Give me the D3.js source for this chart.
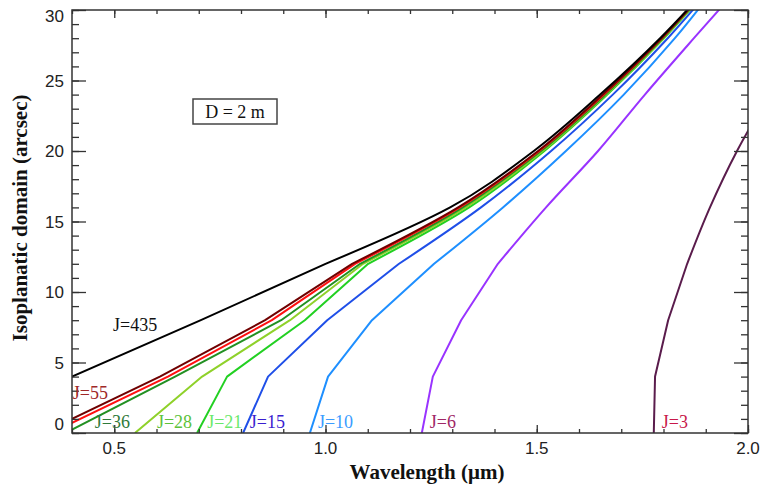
<!DOCTYPE html>
<html>
<head>
<meta charset="utf-8">
<script src="https://cdn.jsdelivr.net/npm/d3@7"></script>
<style>
  body { margin: 0; background: #fff; }
  .tick-label { font-family: "Liberation Sans", Arial, sans-serif; font-size: 17px; fill: #222; }
  .axis-title { font-family: "Liberation Serif", "Times New Roman", serif; font-size: 21px; font-weight: bold; fill: #111; }
  .jlabel { font-family: "Liberation Serif", "Times New Roman", serif; font-size: 18px; }
</style>
</head>
<body>
<div id="chart"></div>
<script>
var width = 762,
    height = 488,
    margin = {left: 72, right: 14, top: 10, bottom: 55};

// isoplanatic angle levels (arcsec) at which each curve was sampled
var thetaLevels = [0, 4, 8, 12, 16, 20, 24, 28, 32];

// wavelength (um) reached at each theta level, one list per curve
var lamJ435 = [0.30, 0.400, 0.705, 1.000, 1.295, 1.493, 1.650, 1.792, 1.917];
var lamJ55  = [0.33, 0.608, 0.857, 1.063, 1.314, 1.503, 1.656, 1.795, 1.918];
var lamJ45  = [0.35, 0.627, 0.873, 1.070, 1.318, 1.506, 1.659, 1.796, 1.918];
var lamJ36  = [0.385, 0.644, 0.895, 1.082, 1.325, 1.510, 1.662, 1.798, 1.919];
var lamJ28  = [0.549, 0.708, 0.916, 1.089, 1.332, 1.514, 1.664, 1.800, 1.920];
var lamJ21  = [0.696, 0.767, 0.951, 1.101, 1.340, 1.518, 1.667, 1.801, 1.921];
var lamJ15  = [0.805, 0.864, 1.004, 1.174, 1.368, 1.534, 1.680, 1.810, 1.926];
var lamJ10  = [0.963, 1.006, 1.110, 1.257, 1.420, 1.569, 1.706, 1.827, 1.933];
var lamJ6   = [1.228, 1.254, 1.321, 1.408, 1.522, 1.645, 1.756, 1.872, 1.990];
var lamJ3   = [1.777, 1.780, 1.811, 1.856, 1.910, 1.974, 2.050, 2.130, 2.210];

var xTicks = [0.5, 1.0, 1.5, 2.0],
    yTicks = [0, 5, 10, 15, 20, 25, 30];

var curves = [
  {name: "J=3",   lam: lamJ3,   color: "#5a1c4c"},
  {name: "J=6",   lam: lamJ6,   color: "#9933ff"},
  {name: "J=10",  lam: lamJ10,  color: "#1e8fff"},
  {name: "J=15",  lam: lamJ15,  color: "#1f4fe8"},
  {name: "J=21",  lam: lamJ21,  color: "#22d022"},
  {name: "J=28",  lam: lamJ28,  color: "#8fd12a"},
  {name: "J=36",  lam: lamJ36,  color: "#229022"},
  {name: "J=45",  lam: lamJ45,  color: "#ff1010"},
  {name: "J=55",  lam: lamJ55,  color: "#700000"},
  {name: "J=435", lam: lamJ435, color: "#000000"}
];

// curve labels, placed in data units
var labels = [
  {text: "J=435", lam: 0.497, th: 7.2,  color: "#111111"},
  {text: "J=55",  lam: 0.402, th: 2.4,  color: "#a02828"},
  {text: "J=36",  lam: 0.454, th: 0.35, color: "#2f7a3a"},
  {text: "J=28",  lam: 0.601, th: 0.35, color: "#5cc23a"},
  {text: "J=21",  lam: 0.720, th: 0.35, color: "#6ae86a"},
  {text: "J=15",  lam: 0.821, th: 0.35, color: "#3a1ed0"},
  {text: "J=10",  lam: 0.982, th: 0.35, color: "#3a9cff"},
  {text: "J=6",   lam: 1.247, th: 0.35, color: "#a02866"},
  {text: "J=3",   lam: 1.796, th: 0.35, color: "#c8184a"}
];

var x = d3.scaleLinear().domain([0.4, 2.0]).range([margin.left, width - margin.right]);
var y = d3.scaleLinear().domain([0, 30]).range([height - margin.bottom, margin.top]);

var svg = d3.select("#chart").append("svg")
  .attr("width", width)
  .attr("height", height);

svg.append("clipPath").attr("id", "plotclip")
  .append("rect")
  .attr("x", x(0.4)).attr("y", y(30))
  .attr("width", x(2.0) - x(0.4)).attr("height", y(0) - y(30));

// low part drawn straight (sharp kinks), upper part smooth
var lineLow = d3.line()
  .x(function(d) { return x(d[0]); })
  .y(function(d) { return y(d[1]); });
var lineHigh = d3.line()
  .curve(d3.curveMonotoneY)
  .x(function(d) { return x(d[0]); })
  .y(function(d) { return y(d[1]); });

var plot = svg.append("g").attr("clip-path", "url(#plotclip)");

curves.forEach(function(c) {
  var pts = c.lam.map(function(l, i) { return [l, thetaLevels[i]]; });
  var low = pts.filter(function(p) { return p[1] <= 12; }),
      high = pts.filter(function(p) { return p[1] >= 12; });
  plot.append("path")
    .attr("d", lineLow(low) + lineHigh(high).replace(/^M/, "L"))
    .attr("fill", "none")
    .attr("stroke", c.color)
    .attr("stroke-width", 2)
    .attr("stroke-linejoin", "round");
});

// axes: ticks pointing inward on all four sides
var axisColor = "#333";
var minorX = d3.range(4, 21).map(function(v) { return v / 10; }),
    minorY = d3.range(0, 31);
var xBottom = d3.axisTop(x).tickValues(minorX).tickSize(4).tickFormat("");
var xBottomMajor = d3.axisTop(x).tickValues(xTicks).tickSize(8).tickFormat("");
var xTop = d3.axisBottom(x).tickValues(minorX).tickSize(4).tickFormat("");
var xTopMajor = d3.axisBottom(x).tickValues(xTicks).tickSize(8).tickFormat("");
var yLeft = d3.axisRight(y).tickValues(minorY).tickSize(7).tickFormat("");
var yLeftMajor = d3.axisRight(y).tickValues(yTicks).tickSize(14).tickFormat("");
var yRight = d3.axisLeft(y).tickValues(minorY).tickSize(7).tickFormat("");
var yRightMajor = d3.axisLeft(y).tickValues(yTicks).tickSize(14).tickFormat("");

function addAxis(ax, tr) {
  var g = svg.append("g").attr("transform", tr).call(ax);
  g.select(".domain").remove();
  g.selectAll("line").attr("stroke", axisColor).attr("stroke-width", 1.3);
}
addAxis(xBottom, "translate(0," + y(0) + ")");
addAxis(xBottomMajor, "translate(0," + y(0) + ")");
addAxis(xTop, "translate(0," + y(30) + ")");
addAxis(xTopMajor, "translate(0," + y(30) + ")");
addAxis(yLeft, "translate(" + x(0.4) + ",0)");
addAxis(yLeftMajor, "translate(" + x(0.4) + ",0)");
addAxis(yRight, "translate(" + x(2.0) + ",0)");
addAxis(yRightMajor, "translate(" + x(2.0) + ",0)");

svg.append("rect")
  .attr("x", x(0.4)).attr("y", y(30))
  .attr("width", x(2.0) - x(0.4)).attr("height", y(0) - y(30))
  .attr("fill", "none").attr("stroke", axisColor).attr("stroke-width", 1.5);

// tick labels
svg.selectAll(".xlab").data(xTicks).enter().append("text")
  .attr("class", "tick-label")
  .attr("x", function(d) { return x(d); })
  .attr("y", y(0) + 21)
  .attr("text-anchor", "middle")
  .text(function(d) { return d.toFixed(1); });

svg.selectAll(".ylab").data(yTicks).enter().append("text")
  .attr("class", "tick-label")
  .attr("x", x(0.4) - 8)
  .attr("y", function(d) {
    var yy = y(d) + 6;
    if (d === 0) yy -= 9;
    if (d === 30) yy += 6;
    return yy;
  })
  .attr("text-anchor", "end")
  .text(function(d) { return d; });

// axis titles
svg.append("text").attr("class", "axis-title")
  .attr("x", 427).attr("y", 479)
  .attr("text-anchor", "middle")
  .text("Wavelength (\u03bcm)");

svg.append("text").attr("class", "axis-title")
  .attr("transform", "translate(27,218) rotate(-90)")
  .attr("text-anchor", "middle")
  .text("Isoplanatic domain (arcsec)");

// curve labels
svg.selectAll(".jlabel").data(labels).enter().append("text")
  .attr("class", "jlabel")
  .attr("x", function(d) { return x(d.lam); })
  .attr("y", function(d) { return y(d.th); })
  .attr("fill", function(d) { return d.color; })
  .text(function(d) { return d.text; });

// telescope diameter box
svg.append("rect")
  .attr("x", 193).attr("y", 99).attr("width", 84).attr("height", 25)
  .attr("fill", "#fff").attr("stroke", "#444").attr("stroke-width", 1.5);
svg.append("text").attr("class", "jlabel")
  .attr("x", 235).attr("y", 118)
  .attr("text-anchor", "middle")
  .attr("fill", "#111")
  .text("D = 2 m");
</script>
</body>
</html>
